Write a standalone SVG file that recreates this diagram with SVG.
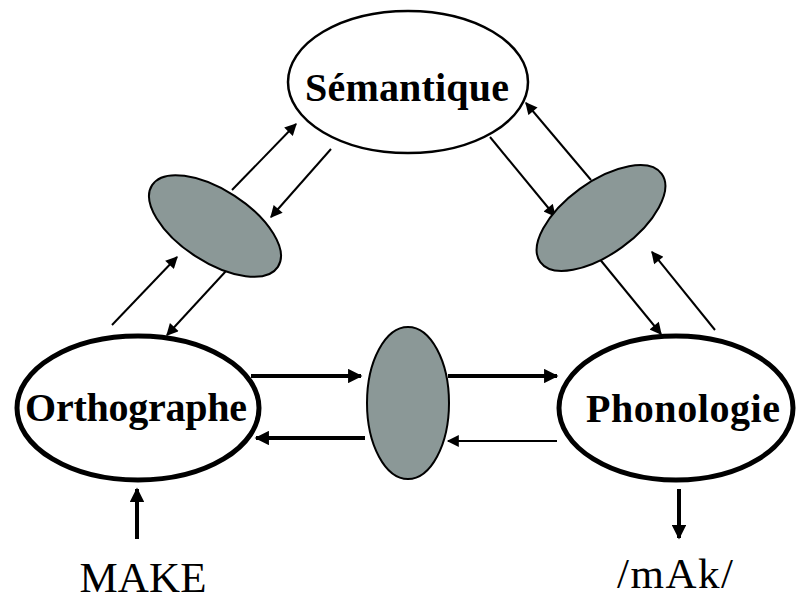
<svg xmlns="http://www.w3.org/2000/svg" width="796" height="601" viewBox="0 0 796 601">
<defs>
<style>
.node{fill:#fff;stroke:#000}
.hub{fill:#8b9897;stroke:#000;stroke-width:2}
.lbl{font-family:"Liberation Serif","Times New Roman",serif;font-weight:bold;font-size:40px;fill:#000}
.io{font-family:"Liberation Serif","Times New Roman",serif;font-size:43px;fill:#000}
.thin{stroke:#000;stroke-width:2;fill:none}
.thick{stroke:#000;stroke-width:4;fill:none}
</style>
<marker id="ah" viewBox="0 0 10 10" refX="9" refY="5" markerWidth="7" markerHeight="6" markerUnits="strokeWidth" orient="auto">
<path d="M0,0 L10,5 L0,10 z" fill="#000"/>
</marker>
<marker id="ahb" viewBox="0 0 10 10" refX="9" refY="5" markerWidth="4" markerHeight="3.6" markerUnits="strokeWidth" orient="auto">
<path d="M0,0 L10,5 L0,10 z" fill="#000"/>
</marker>
</defs>
<rect width="796" height="601" fill="#fff"/>
<g id="connectors">
<line class="thin" x1="232" y1="190" x2="296" y2="124" marker-end="url(#ah)"/>
<line class="thin" x1="331" y1="149" x2="271" y2="217" marker-end="url(#ah)"/>
<line class="thin" x1="112" y1="325" x2="177" y2="257" marker-end="url(#ah)"/>
<line class="thin" x1="226" y1="271" x2="167" y2="335" marker-end="url(#ah)"/>
<line class="thin" x1="490" y1="137" x2="555" y2="216" marker-end="url(#ah)"/>
<line class="thin" x1="591" y1="180" x2="526" y2="103" marker-end="url(#ah)"/>
<line class="thin" x1="598" y1="257" x2="661" y2="334" marker-end="url(#ah)"/>
<line class="thin" x1="715" y1="330" x2="652" y2="252" marker-end="url(#ah)"/>
<line class="thick" x1="251" y1="376" x2="361" y2="376" marker-end="url(#ahb)"/>
<line class="thick" x1="448" y1="376" x2="557" y2="376" marker-end="url(#ahb)"/>
<line class="thick" x1="365" y1="438" x2="256" y2="438" marker-end="url(#ahb)"/>
<line class="thin" x1="557" y1="441" x2="448" y2="441" marker-end="url(#ah)"/>
<line class="thick" x1="137" y1="539" x2="137" y2="489" marker-end="url(#ahb)"/>
<line class="thick" x1="679" y1="489" x2="679" y2="538" marker-end="url(#ahb)"/>
</g>
<g id="semantique">
<ellipse class="node" cx="408" cy="82" rx="120" ry="71" stroke-width="2.5"/>
<text class="lbl" x="407" y="101" text-anchor="middle" textLength="204">Sémantique</text>
</g>
<g id="hub-os">
<ellipse class="hub" cx="215" cy="226" rx="75" ry="36" transform="rotate(33 215 226)"/>
</g>
<g id="hub-sp">
<ellipse class="hub" cx="601" cy="218" rx="75" ry="36" transform="rotate(-36 601 218)"/>
</g>
<g id="hub-op">
<ellipse class="hub" cx="408" cy="403" rx="41" ry="76"/>
</g>
<g id="orthographe">
<ellipse class="node" cx="138" cy="408" rx="121" ry="72" stroke-width="5"/>
<text class="lbl" x="136" y="421" text-anchor="middle" textLength="222">Orthographe</text>
</g>
<g id="phonologie">
<ellipse class="node" cx="676" cy="408" rx="117" ry="72" stroke-width="5"/>
<text class="lbl" x="683" y="422" text-anchor="middle" textLength="194">Phonologie</text>
</g>
<g id="make">
<text class="io" x="143" y="592" text-anchor="middle" textLength="127">MAKE</text>
</g>
<g id="mak">
<text class="io" x="675" y="588" text-anchor="middle" textLength="116">/mAk/</text>
</g>
</svg>
